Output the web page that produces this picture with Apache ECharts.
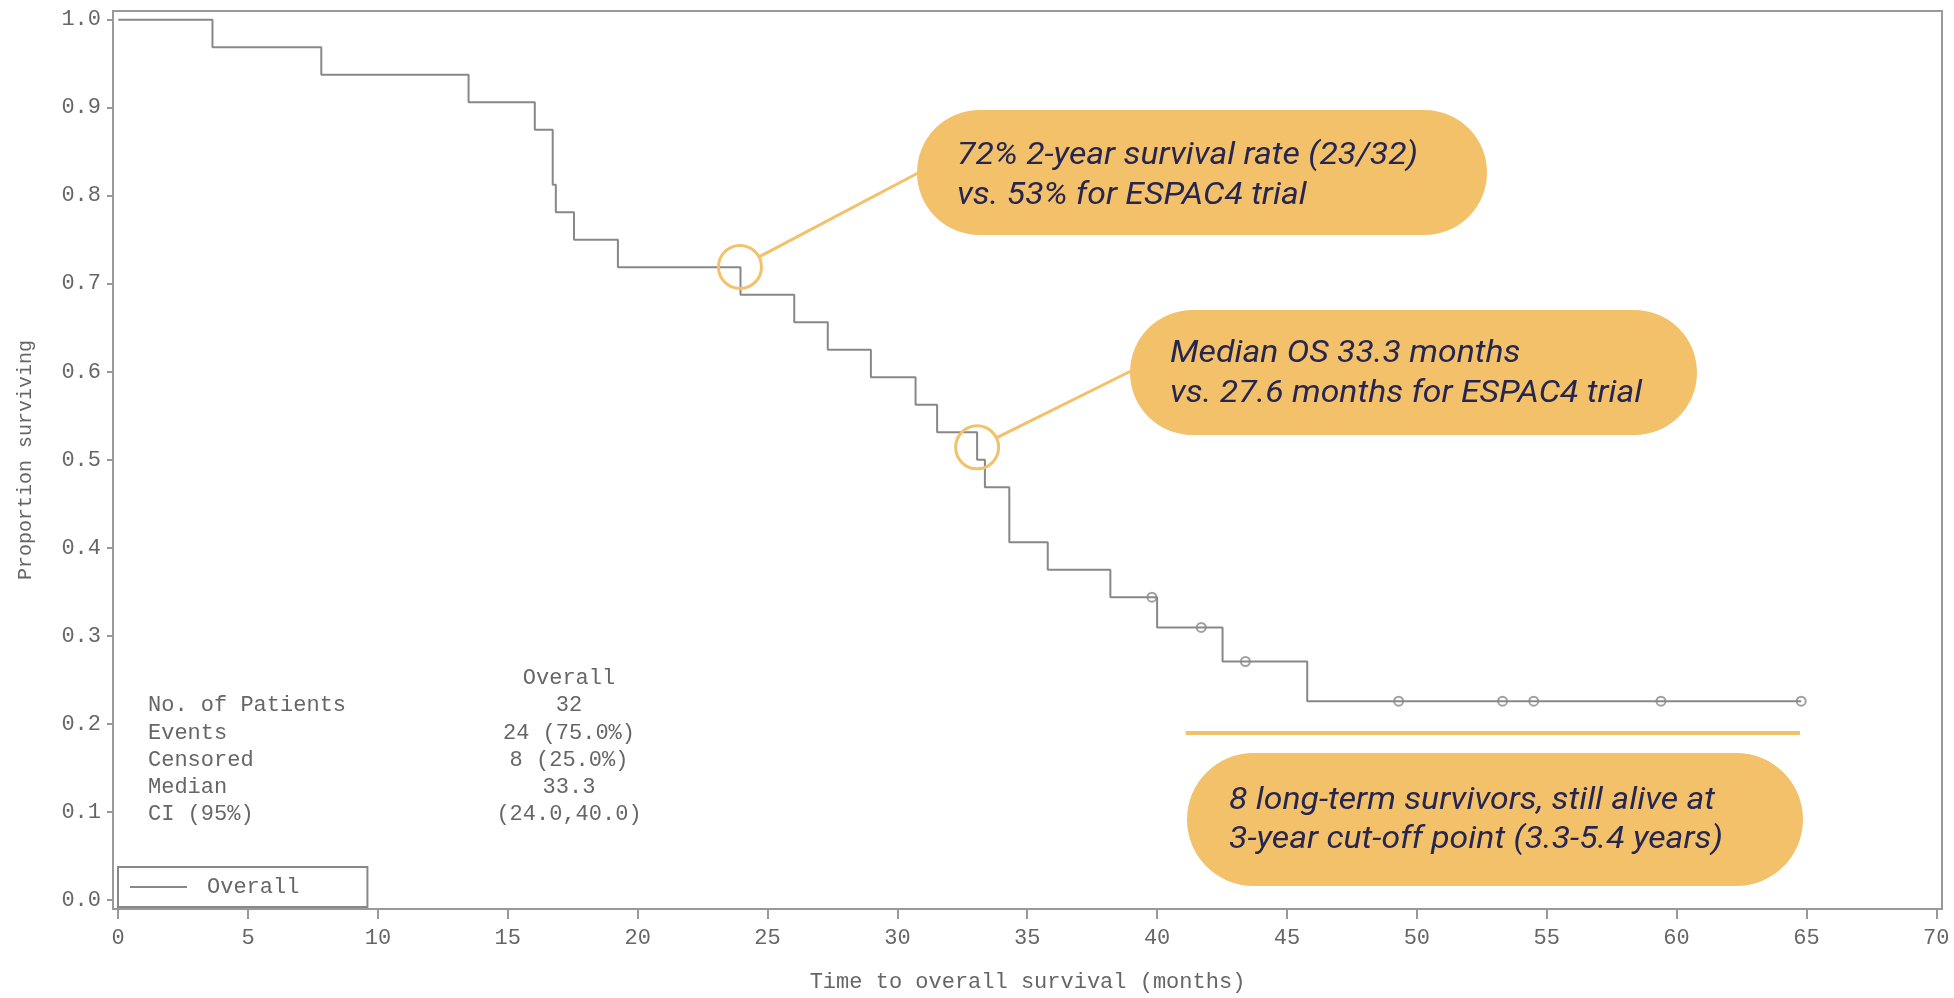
<!DOCTYPE html>
<html><head><meta charset="utf-8">
<script src="https://cdn.jsdelivr.net/npm/echarts@6/dist/echarts.min.js"></script>
<style>html,body{margin:0;padding:0;background:#fff}#c{width:1954px;height:998px}</style>
</head><body><div id="c"></div>
<script>
// ---- data ----
const eventTimes = [0, 3.63, 7.82, 13.49, 16.04, 16.73, 16.85, 17.55, 19.24, 23.96, 26.03, 27.32, 28.98, 30.70, 31.53, 33.07, 33.37, 34.31, 35.79, 38.20, 40.0, 42.52, 45.78, 64.8];
const survival = [1.0, 0.96875, 0.9375, 0.90625, 0.875, 0.8125, 0.78125, 0.75, 0.71875, 0.6875, 0.65625, 0.625, 0.59375, 0.5625, 0.53125, 0.5, 0.46875, 0.40625, 0.375, 0.34375, 0.309375, 0.2707, 0.2256, 0.2256];
const censorTimes = [39.8, 41.7, 43.4, 49.3, 53.3, 54.5, 59.4, 64.8];
const censorSurvival = [0.34375, 0.309375, 0.2707, 0.2256, 0.2256, 0.2256, 0.2256, 0.2256];
const xTicks = [0, 5, 10, 15, 20, 25, 30, 35, 40, 45, 50, 55, 60, 65, 70];
const yTicks = [0, 0.1, 0.2, 0.3, 0.4, 0.5, 0.6, 0.7, 0.8, 0.9, 1.0];
const statHeader = 'Overall';
const statLabels = ['No. of Patients', 'Events', 'Censored', 'Median', 'CI (95%)'];
const statValues = ['32', '24 (75.0%)', '8 (25.0%)', '33.3', '(24.0,40.0)'];
const callout1 = ['72% 2-year survival rate (23/32)', 'vs. 53% for ESPAC4 trial'];
const callout2 = ['Median OS 33.3 months', 'vs. 27.6 months for ESPAC4 trial'];
const callout3 = ['8 long-term survivors, still alive at', '3-year cut-off point (3.3-5.4 years)'];
const anchor1 = [23.94, 0.719];
const anchor2 = [33.07, 0.514];
const longTermLine = [[41.1, 0.1894], [64.75, 0.1894]];

// ---- style ----
const MONO = 'Liberation Mono';
const TXT = '#666';
const AX = '#999';
const ORANGE = '#F3C169';
const NAVY = '#262651';

const chart = echarts.init(document.getElementById('c'));
const lineData = eventTimes.map((t, i) => [t, survival[i]]);
const censorData = censorTimes.map((t, i) => [t, censorSurvival[i]]);

chart.setOption({
  animation: false,
  grid: { left: 113, right: 12, top: 11, bottom: 82, show: true, borderColor: AX, borderWidth: 2 },
  xAxis: {
    type: 'value', min: -0.2, max: 70.22,
    axisLine: { show: true, onZero: false, lineStyle: { color: AX, width: 2 } },
    axisTick: { show: true, customValues: xTicks, length: 10, lineStyle: { color: AX, width: 2 } },
    axisLabel: { customValues: xTicks, margin: 18, fontFamily: MONO, fontSize: 22, color: TXT },
    splitLine: { show: false },
    name: 'Time to overall survival (months)', nameLocation: 'middle', nameGap: 62,
    nameTextStyle: { fontFamily: MONO, fontSize: 22, color: TXT }
  },
  yAxis: {
    type: 'value', min: -0.0105, max: 1.0098,
    axisLine: { show: true, onZero: false, lineStyle: { color: AX, width: 2 } },
    axisTick: { show: true, customValues: yTicks, length: 6, lineStyle: { color: AX, width: 2 } },
    axisLabel: { customValues: yTicks, margin: 12, fontFamily: MONO, fontSize: 22, color: TXT,
      formatter: v => v.toFixed(1) },
    splitLine: { show: false },
    name: 'Proportion surviving', nameLocation: 'middle', nameGap: 77,
    nameTextStyle: { fontFamily: MONO, fontSize: 20, color: TXT }
  },
  legend: {
    data: [{ name: 'Overall', icon: 'rect' }],
    left: 118, top: 867, orient: 'horizontal',
    padding: [9, 68, 9, 12],
    borderColor: '#888', borderWidth: 2,
    itemWidth: 57, itemHeight: 2,
    textStyle: { fontFamily: MONO, fontSize: 22, color: TXT, padding: [0, 0, 0, 15] },
    selectedMode: false
  },
  series: [
    { name: 'Overall', type: 'line', step: 'end', data: lineData, showSymbol: false,
      lineStyle: { color: '#888', width: 2 }, itemStyle: { color: '#888' } },
    { name: 'Censored', type: 'scatter', data: censorData, symbol: 'emptyCircle', symbolSize: 9,
      itemStyle: { color: '#888', borderColor: '#888', borderWidth: 1.5 } }
  ]
});

// ---- annotations ----
const ctx = document.createElement('canvas').getContext('2d');
const FONT = 'italic 32px Roboto';
ctx.font = FONT;
const sx = 461 / ctx.measureText(callout1[0]).width;

const g = [];
// stats table
g.push({ type: 'text', x: 569, y: 678, style: { text: statHeader, font: '22px ' + MONO, fill: TXT, textAlign: 'center', textVerticalAlign: 'middle' } });
const rowY = [705, 732.7, 760, 786.7, 814];
statLabels.forEach((s, i) => {
  g.push({ type: 'text', x: 148, y: rowY[i], style: { text: s, font: '22px ' + MONO, fill: TXT, textAlign: 'left', textVerticalAlign: 'middle' } });
  g.push({ type: 'text', x: 569, y: rowY[i], style: { text: statValues[i], font: '22px ' + MONO, fill: TXT, textAlign: 'center', textVerticalAlign: 'middle' } });
});

function pill(x0, y0, x1, y1, lines, tx, ty, lh) {
  g.push({ type: 'rect', shape: { x: x0, y: y0, width: x1 - x0, height: y1 - y0, r: (y1 - y0) / 2 }, style: { fill: ORANGE }, z: 10 });
  lines.forEach((s, i) => {
    g.push({ type: 'text', x: tx, y: ty + i * lh, scaleX: sx, z: 11,
      style: { text: s, font: FONT, fill: NAVY, textAlign: 'left', textVerticalAlign: 'middle' } });
  });
}
pill(917, 110, 1487, 235, callout1, 957, 156, 40);
pill(1130, 310, 1697, 435, callout2, 1170, 354, 40);
pill(1187, 753, 1803, 886, callout3, 1229, 801, 38.5);

function ring(anchor, attach) {
  const c = chart.convertToPixel({ gridIndex: 0 }, anchor);
  const r = 21.5;
  const dx = attach[0] - c[0], dy = attach[1] - c[1];
  const d = Math.hypot(dx, dy);
  g.push({ type: 'circle', shape: { cx: c[0], cy: c[1], r: r }, style: { fill: 'none', stroke: ORANGE, lineWidth: 3 }, z: 9 });
  g.push({ type: 'line', shape: { x1: c[0] + r * dx / d, y1: c[1] + r * dy / d, x2: attach[0], y2: attach[1] }, style: { stroke: ORANGE, lineWidth: 3 }, z: 9 });
}
ring(anchor1, [918, 173]);
ring(anchor2, [1131, 371]);

const p0 = chart.convertToPixel({ gridIndex: 0 }, longTermLine[0]);
const p1 = chart.convertToPixel({ gridIndex: 0 }, longTermLine[1]);
g.push({ type: 'line', shape: { x1: p0[0], y1: p0[1], x2: p1[0], y2: p1[1] }, style: { stroke: ORANGE, lineWidth: 4 }, z: 9 });

chart.setOption({ graphic: g });
</script>
</body></html>
